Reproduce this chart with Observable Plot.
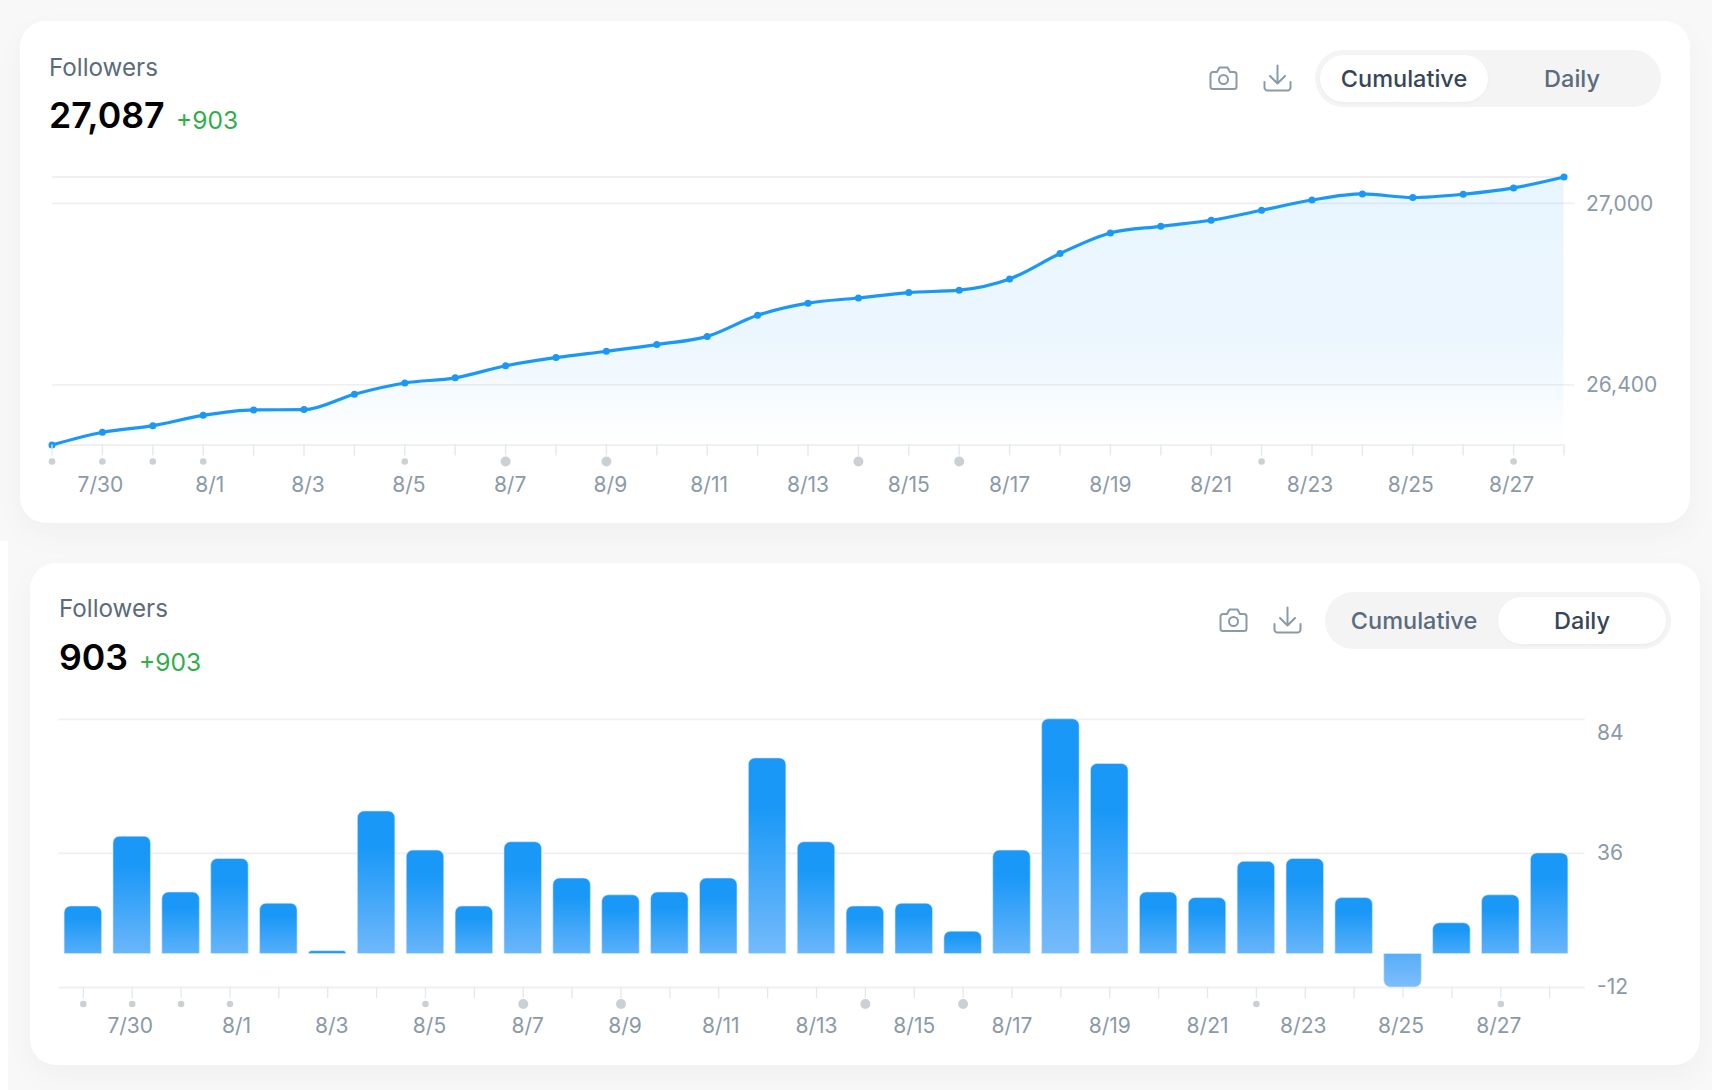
<!DOCTYPE html>
<html>
<head>
<meta charset="utf-8">
<script src="https://cdn.jsdelivr.net/npm/d3@7"></script>
<script src="https://cdn.jsdelivr.net/npm/@observablehq/plot@0.6"></script>
<style>
  html,body{margin:0;padding:0;background:#fff;width:1712px;height:1090px;overflow:hidden;font-family:Inter,sans-serif}
  .bg{position:absolute;background:#f8f8f8}
  .card{position:absolute;width:1670px;height:502px;background:#fff;border-radius:26px;box-shadow:0 12px 32px rgba(0,0,0,.035)}
  .card svg.plot{position:absolute;left:0;top:0;overflow:visible;background:transparent}
  .t{position:absolute;white-space:nowrap;line-height:1}
  .label{left:29px;top:34.500px;font-size:24.200px;color:#5b6b7b}
  .value{left:29px;top:77px;font-size:35.700px;font-weight:600;color:#000}
  .delta{top:87px;font-size:24.600px;color:#2fae4a}
  .pill{position:absolute;left:1295px;top:29px;width:346px;height:57px;border-radius:29px;background:#f4f4f5}
  .knob{position:absolute;top:5px;width:168px;height:47px;border-radius:24px;background:#fff;box-shadow:0 1px 3px rgba(0,0,0,.04)}
  .opt{position:absolute;top:17px;font-size:23.500px;line-height:1;font-weight:500;white-space:nowrap;color:#5a6c7e;transform:translateX(-50%)}
  .opt.on{color:#36465a;font-weight:500}
  .ico{position:absolute;fill:none;stroke:#8a9aa9;stroke-width:2;stroke-linecap:round;stroke-linejoin:round}
</style>
</head>
<body>
<div class="bg" style="left:0;top:0;width:1712px;height:541px"></div>
<div class="bg" style="left:8px;top:541px;width:1704px;height:549px"></div>
<script>
const days = ["7/29","7/30","7/31","8/1","8/2","8/3","8/4","8/5","8/6","8/7","8/8","8/9","8/10","8/11","8/12","8/13","8/14","8/15","8/16","8/17","8/18","8/19","8/20","8/21","8/22","8/23","8/24","8/25","8/26","8/27","8/28"];
const cumulative = [26201,26243,26265,26299,26317,26318,26369,26406,26423,26463,26490,26511,26533,26560,26630,26670,26687,26705,26713,26750,26834,26902,26924,26944,26977,27011,27031,27019,27030,27051,27087];
const daily = [17,42,22,34,18,1,51,37,17,40,27,21,22,27,70,40,17,18,8,37,84,68,22,20,33,34,20,-12,11,21,36];
const tickLabels = ["7/30","8/1","8/3","8/5","8/7","8/9","8/11","8/13","8/15","8/17","8/19","8/21","8/23","8/25","8/27"];
const smallMarkers = ["7/29","7/30","7/31","8/1","8/5","8/22","8/27"];
const largeMarkers = ["8/7","8/9","8/14","8/16"];

const labelNudge = [-2,6.5,4,4,4.5,4,2,0,0,0,0,0,-2,-2,-2];
const grey = "#8b99a8", gridC = "#f0f0f1", tickC = "#e6e7e9", markC = "#cbd0d5", blue = "#1998f7";
const plain = {fontVariant:"normal",color:grey,label:null};

const dayMarks = (tickBottom) => [
  Plot.axisX(days,{tickSize:11,stroke:tickC,fill:"none",strokeWidth:1.3,label:null}),
  Plot.dot(smallMarkers,{x:d=>d,frameAnchor:"bottom",dy:16.5,r:3.3,fill:markC}),
  Plot.dot(largeMarkers,{x:d=>d,frameAnchor:"bottom",dy:16.5,r:5,fill:markC}),
  ...tickLabels.map((d,i)=>Plot.axisX([d],{tickSize:0,tickPadding:tickBottom,dx:labelNudge[i],fontSize:21,...plain}))
];

function header(card,o){
  card.insertAdjacentHTML("beforeend",`
    <div class="t label">Followers</div>
    <div class="t value">${o.value}</div>
    <div class="t delta" style="left:${o.deltaX}px">+903</div>
    <svg class="ico" style="left:1189px;top:44px" width="29" height="26" viewBox="0 0 29 26"><path d="M4 7h4l2.500-4.500h8L21 7h4a2.500 2.500 0 0 1 2.500 2.500v12a2.500 2.500 0 0 1-2.500 2.500H4a2.500 2.500 0 0 1-2.500-2.500v-12A2.500 2.500 0 0 1 4 7z"/><circle cx="14.500" cy="14.500" r="4.500"/></svg>
    <svg class="ico" style="left:1243px;top:43px" width="29" height="28" viewBox="0 0 29 28"><path d="M14.500 1.500V19M7 12l7.500 7.500L22 12M1.500 18v5.500a3 3 0 0 0 3 3h20a3 3 0 0 0 3-3V18"/></svg>
    <div class="pill">
      <div class="knob" style="left:${o.active==="Cumulative"?5:173}px"></div>
      <div class="opt ${o.active==="Cumulative"?"on":""}" style="left:89px">Cumulative</div>
      <div class="opt ${o.active==="Daily"?"on":""}" style="left:257px">Daily</div>
    </div>`);
}

function place(left,top){
  const c=document.createElement("div");
  c.className="card";c.style.left=left+"px";c.style.top=top+"px";
  document.body.appendChild(c);return c;
}

// Cumulative
{
  const card=place(20,21);
  const rows=days.map((d,i)=>({day:d,value:cumulative[i]}));
  const defs=()=>{
    const s=d3.create("svg:defs");
    const g=s.append("linearGradient").attr("id","areaGrad").attr("x1",0).attr("x2",0).attr("y1",0).attr("y2",1);
    g.append("stop").attr("offset",0).attr("stop-color",blue).attr("stop-opacity",.095);
    g.append("stop").attr("offset",.6).attr("stop-color",blue).attr("stop-opacity",.085);
    g.append("stop").attr("offset",1).attr("stop-color",blue).attr("stop-opacity",0);
    return s.node();
  };
  const plot=Plot.plot({
    width:1670,height:502,marginLeft:31.5,marginRight:126.5,marginTop:155.5,marginBottom:78.5,
    style:{background:"transparent",fontFamily:"Inter, sans-serif"},
    x:{type:"point",domain:days,padding:0,round:false,axis:null},
    y:{domain:[26201,27087],axis:null},
    marks:[
      defs,
      Plot.ruleY([27087,26201],{stroke:gridC,strokeWidth:1.8,insetLeft:.8}),
      Plot.ruleY([27000,26400],{stroke:gridC,strokeWidth:1.8,insetLeft:.8,insetRight:-11}),
      Plot.areaY(rows,{x:"day",y1:26201,y2:"value",curve:"monotone-x",fill:"url(#areaGrad)"}),
      Plot.lineY(rows,{x:"day",y:"value",curve:"monotone-x",stroke:blue,strokeWidth:3.2}),
      Plot.dot(rows,{x:"day",y:"value",r:3.500,fill:blue}),
      Plot.axisY([27000,26400],{anchor:"right",tickSize:0,tickPadding:22,dy:.5,tickFormat:d3.format(","),fontSize:21,...plain}),
      ...dayMarks(32.3)
    ]
  });
  plot.classList.add("plot");
  card.appendChild(plot);
  header(card,{value:"27,087",deltaX:156,active:"Cumulative"});
}

// Daily
{
  const card=place(30,562.5);
  const rows=days.map((d,i)=>({day:d,value:daily[i],grad:`url(#bar${i})`}));
  const defs=()=>{
    const s=d3.create("svg:defs");
    daily.forEach((v,i)=>{
      const g=s.append("linearGradient").attr("id",`bar${i}`).attr("x1",0).attr("x2",0).attr("y1",0).attr("y2",1);
      if(v<0){
        g.append("stop").attr("offset",0).attr("stop-color","#57aef9");
        g.append("stop").attr("offset",1).attr("stop-color","#7dbdfb");
      }else{
        const t=Math.min(1,1.15*v/(v+14));
        g.append("stop").attr("offset",.25).attr("stop-color",blue);
        g.append("stop").attr("offset",1).attr("stop-color",d3.interpolateRgb(blue,"#78bbfb")(t));
      }
    });
    return s.node();
  };
  const label=d=>String(d);
  const edge={stroke:"#d6ebfe",strokeOpacity:.6,strokeWidth:1};
  const plot=Plot.plot({
    width:1670,height:502,marginLeft:28.4,marginRight:126.4,marginTop:155.8,marginBottom:78,
    style:{background:"transparent",fontFamily:"Inter, sans-serif"},
    color:{type:"identity"},
    x:{type:"band",domain:days,paddingInner:.233,paddingOuter:.1165,round:false,axis:null},
    y:{domain:[-12,84],axis:null},
    marks:[
      defs,
      Plot.ruleY([84,36,-12],{stroke:gridC,strokeWidth:1.8,insetRight:-11}),
      Plot.barY(rows.filter(d=>d.value>=0),{x:"day",y:"value",fill:"grad",rx1y1:6.5,rx2y1:6.5,...edge}),
      Plot.barY(rows.filter(d=>d.value<0),{x:"day",y:"value",fill:"grad",rx1y2:6.5,rx2y2:6.5,...edge}),
      Plot.axisY([84],{anchor:"right",tickSize:0,tickPadding:23,dy:14,tickFormat:label,fontSize:21,...plain}),
      Plot.axisY([36,-12],{anchor:"right",tickSize:0,tickPadding:23,tickFormat:label,fontSize:21,...plain}),
      ...dayMarks(31)
    ]
  });
  plot.classList.add("plot");
  card.appendChild(plot);
  header(card,{value:"903",deltaX:109,active:"Daily"});
}
</script>
</body>
</html>
